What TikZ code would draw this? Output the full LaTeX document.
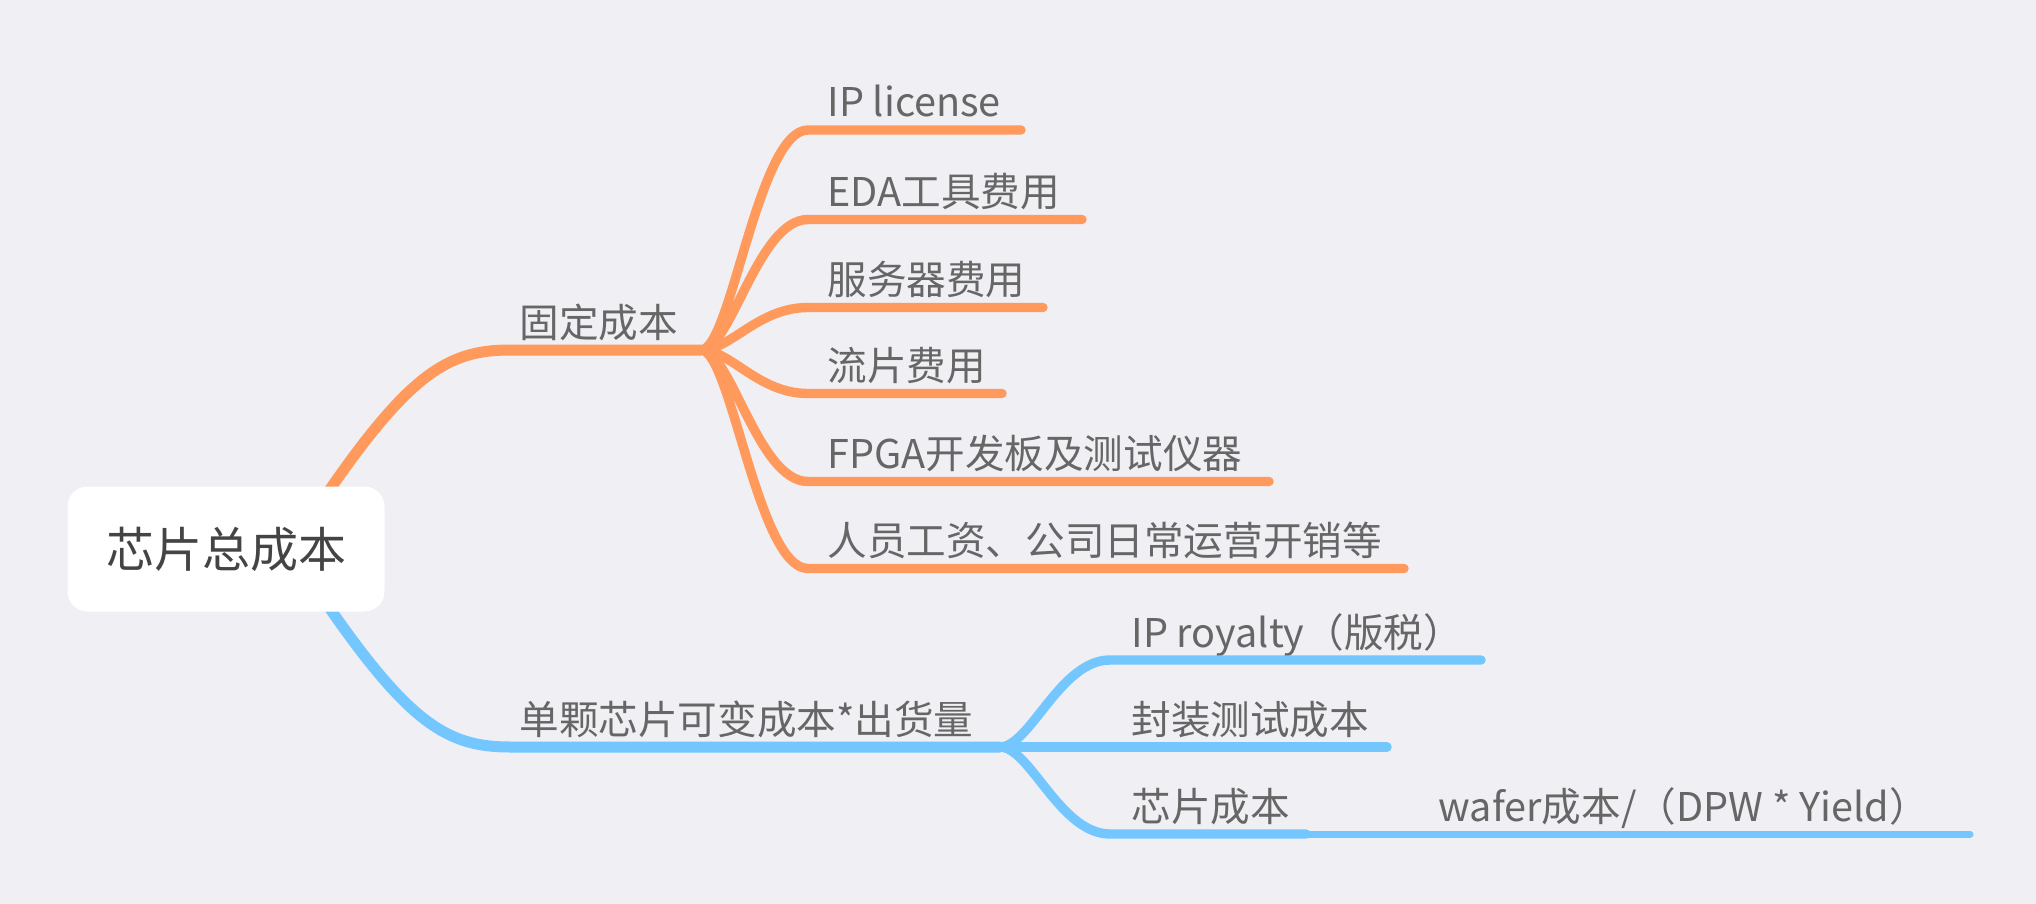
\documentclass[tikz,border=0pt]{standalone}
\usepackage{fontspec}
\setmainfont{Noto Sans CJK SC}
\definecolor{canvas}{HTML}{EFEFF4}
\definecolor{fixcol}{HTML}{FF995C}
\definecolor{varcol}{HTML}{74C6FF}
\definecolor{inkgray}{HTML}{666666}
\definecolor{inkdark}{HTML}{444444}
\pgfdeclarelayer{trunks}
\pgfsetlayers{trunks,main}
\tikzset{
  rootbox/.style={fill=white, rounded corners=10pt, minimum width=158.5pt,
    minimum height=62.5pt, inner sep=0pt, text=inkdark,
    font=\fontsize{24pt}{28pt}\selectfont},
  topictext/.style={anchor=base west, inner sep=0pt, text=inkgray,
    font=\fontsize{19.8pt}{24pt}\selectfont},
  trunk/.style={line width=5.5pt, line cap=round},
  twig/.style={line width=4.7pt, line cap=round},
  leafline/.style={line width=3.5pt, line cap=round},
}
\begin{document}
\begin{tikzpicture}[x=0.5pt, y=-0.5pt]

  % central topic
  \node[rootbox] (root) at (226,549) {芯片总成本};
  \coordinate (rootout) at (290,549);
  \coordinate (fixbend) at (510,350);
  \coordinate (fixfork) at (701,350);
  \coordinate (varbend) at (510,747);
  \coordinate (varfork) at (1000,747);

  % main branches, kept under the central box
  \begin{pgfonlayer}{trunks}
    \fill[canvas] (0,0) rectangle (2036,904);
    \draw[trunk, fixcol] (rootout) .. controls (400,380) and (440,350) .. (fixbend) -- (fixfork);
    \draw[trunk, varcol] (rootout) .. controls (400,718) and (440,747) .. (varbend) -- (varfork);
  \end{pgfonlayer}
  \node[topictext] (fixed) at (519,337) {固定成本};
  \node[topictext] (variable) at (519,734) {单颗芯片可变成本*出货量};

  % fixed cost items
  \foreach \name/\ly/\lx/\txt in {ipl/130/1021/IP license,
      eda/219.5/1082/EDA工具费用, server/307.5/1043/服务器费用,
      tapeout/393.5/1002/流片费用, fpga/481.5/1269/FPGA开发板及测试仪器,
      staff/568.5/1404/人员工资、公司日常运营开销等}{
    \coordinate (\name-in) at (808,\ly);
    \coordinate (\name-out) at (\lx,\ly);
    \node[topictext] (\name) at (827,\ly-13) {\txt};
    \draw[twig, fixcol] (fixfork) .. controls +(30,0) and +(-50,0) .. (\name-in) -- (\name-out);
  }

  % variable cost items
  \node[topictext] (royalty) at (1131,647) {IP royalty（版税）};
  \coordinate (royalty-in) at (1110,660);
  \coordinate (royalty-out) at (1481,660);
  \draw[twig, varcol] (varfork) .. controls +(30,0) and +(-50,0) .. (royalty-in) -- (royalty-out);

  \node[topictext] (package) at (1131,734) {封装测试成本};
  \coordinate (package-out) at (1387,747);
  \draw[twig, varcol] (varfork) -- (package-out);

  \node[topictext] (die) at (1131,821) {芯片成本};
  \coordinate (die-in) at (1110,834);
  \coordinate (die-out) at (1306,834);
  \draw[twig, varcol] (varfork) .. controls +(30,0) and +(-50,0) .. (die-in) -- (die-out);

  \node[topictext] (wafer) at (1438,821) {wafer成本/（DPW * Yield）};
  \coordinate (wafer-out) at (1970,834);
  \draw[leafline, varcol] (die-out) -- (wafer-out);

\end{tikzpicture}
\end{document}
